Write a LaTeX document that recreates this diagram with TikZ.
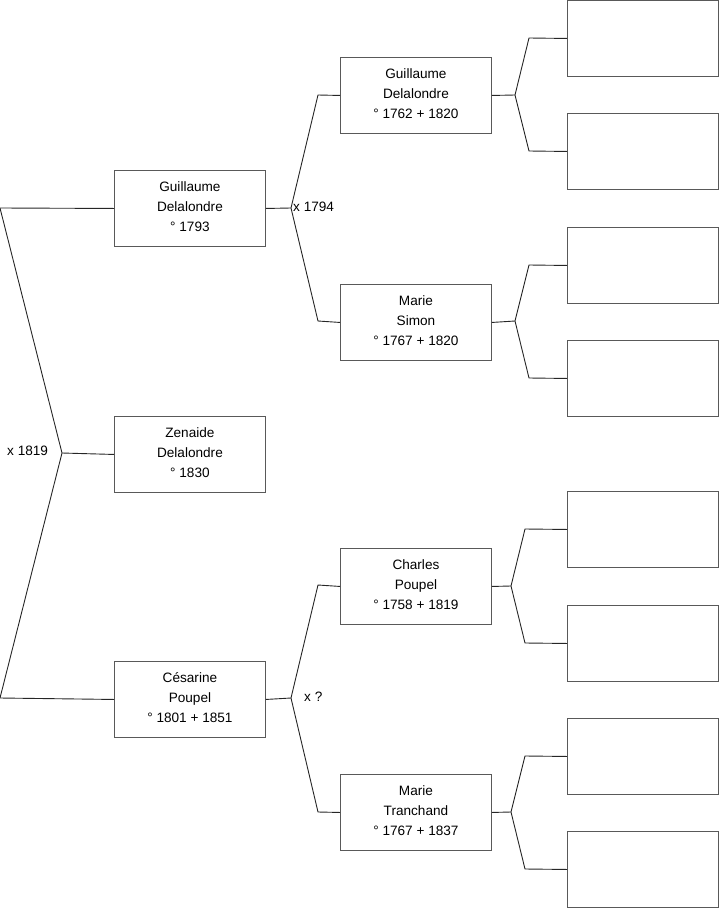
\documentclass[tikz,border=0pt]{standalone}
\usepackage{fontspec}
\setmainfont{Liberation Sans}
\begin{document}
\begin{tikzpicture}[x=1pt,y=-1pt,
  person/.style={draw=black!65, line width=0.9pt, minimum width=151pt, minimum height=76pt, inner sep=0pt, align=center, font=\fontsize{13.6}{20}\selectfont, anchor=north west, text depth=4pt},
  link/.style={draw=black!85, line width=0.9pt},
  lbl/.style={font=\fontsize{13.6}{16}\selectfont, inner sep=0pt}]
\useasboundingbox (0,0) rectangle (719,908);
% generation 1
\node[person] (g1) at (114,170) {Guillaume\\Delalondre\\° 1793};
\node[person] (z) at (114,416) {Zenaide\\Delalondre\\° 1830};
\node[person] (c1) at (114,661) {Césarine\\Poupel\\° 1801 + 1851};
% generation 2
\node[person] (g2) at (340,57) {Guillaume\\Delalondre\\° 1762 + 1820};
\node[person] (ms) at (340,284) {Marie\\Simon\\° 1767 + 1820};
\node[person] (cp) at (340,548) {Charles\\Poupel\\° 1758 + 1819};
\node[person] (mt) at (340,774) {Marie\\Tranchand\\° 1767 + 1837};
% generation 3 (empty)
\node[person] (r1) at (567,0) {};
\node[person] (r2) at (567,113) {};
\node[person] (r3) at (567,227) {};
\node[person] (r4) at (567,340) {};
\node[person] (r5) at (567,491) {};
\node[person] (r6) at (567,605) {};
\node[person] (r7) at (567,718) {};
\node[person] (r8) at (567,831) {};
% coordinates
\coordinate (j0) at (62,453);
\coordinate (a0) at (0,208);
\coordinate (b0) at (0,698);
\coordinate (j1) at (291,208);
\coordinate (a1) at (318,95);
\coordinate (b1) at (318,321);
\coordinate (j2) at (291,698);
\coordinate (a2) at (318,585);
\coordinate (b2) at (318,812);
\coordinate (j3) at (515,95);
\coordinate (a3) at (529,38);
\coordinate (b3) at (529,151);
\coordinate (j4) at (515,321);
\coordinate (a4) at (529,265);
\coordinate (b4) at (529,378);
\coordinate (j5) at (511,586);
\coordinate (a5) at (525,529);
\coordinate (b5) at (525,643);
\coordinate (j6) at (511,812);
\coordinate (a6) at (525,756);
\coordinate (b6) at (525,869);
% connectors
\draw[link] (g1.west) -- (a0) -- (j0) -- (b0) -- (c1.west);
\draw[link] (j0) -- (z.west);
\draw[link] (g1.east) -- (j1);
\draw[link] (g2.west) -- (a1) -- (j1) -- (b1) -- (ms.west);
\draw[link] (c1.east) -- (j2);
\draw[link] (cp.west) -- (a2) -- (j2) -- (b2) -- (mt.west);
\draw[link] (g2.east) -- (j3);
\draw[link] (r1.west) -- (a3) -- (j3) -- (b3) -- (r2.west);
\draw[link] (ms.east) -- (j4);
\draw[link] (r3.west) -- (a4) -- (j4) -- (b4) -- (r4.west);
\draw[link] (cp.east) -- (j5);
\draw[link] (r5.west) -- (a5) -- (j5) -- (b5) -- (r6.west);
\draw[link] (mt.east) -- (j6);
\draw[link] (r7.west) -- (a6) -- (j6) -- (b6) -- (r8.west);
% labels
\node[lbl, anchor=west] (l0) at (7,451) {x 1819};
\node[lbl, anchor=west] (l1) at (293,207) {x 1794};
\node[lbl, anchor=west] (l2) at (304,697) {x ?};
\end{tikzpicture}
\end{document}
